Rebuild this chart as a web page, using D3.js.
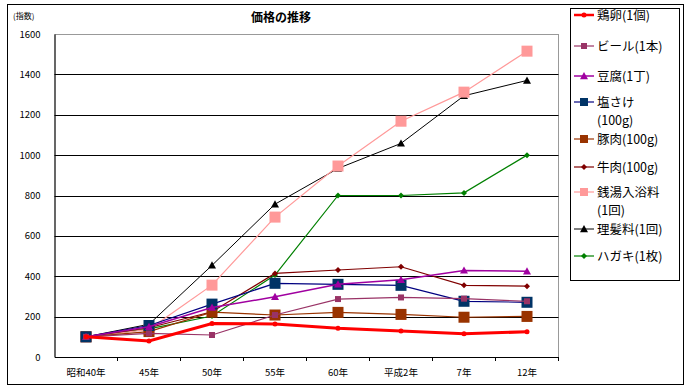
<!DOCTYPE html>
<html><head><meta charset="utf-8">
<script src="https://cdn.jsdelivr.net/npm/d3@7"></script>
<style>body{margin:0;background:#fff}svg{display:block}</style>
</head><body><svg id="c" width="690" height="392"></svg>
<script>
const categories = ["昭和40年","45年","50年","55年","60年","平成2年","7年","12年"];
const yTicks = [0,200,400,600,800,1000,1200,1400,1600];
const seriesNames = ["鶏卵(1個)","ビール(1本)","豆腐(1丁)","塩さけ(100g)","豚肉(100g)","牛肉(100g)","銭湯入浴料(1回)","理髪料(1回)","ハガキ(1枚)"];
const eggs   = [100, 79, 166, 164, 142, 129, 115, 125];
const beer   = [100, 117, 109, 208, 287, 295, 289, 276];
const tofu   = [100, 150, 245, 298, 360, 383, 429, 425];
const salmon = [100, 156, 262, 365, 360, 355, 276, 271];
const pork   = [100, 126, 222, 208, 221, 211, 197, 201];
const beef   = [100, 145, 224, 414, 431, 447, 355, 351];
const bath   = [100, 137, 356, 693, 946, 1168, 1312, 1515];
const barber = [100, 162, 454, 757, 934, 1058, 1294, 1370];
const card   = [100, 139, 203, 406, 800, 800, 813, 1000];
const seriesValues = [eggs, beer, tofu, salmon, pork, beef, bath, barber, card];

const styles = [
  {c:"#FF0000", w:3, m:"dot", s:2.5},
  {c:"#993366", w:1.2, m:"sq", s:3},
  {c:"#A000A0", w:1.5, m:"tri", s:4},
  {c:"#000080", w:1.2, m:"sq", s:5.5, mc:"#003366"},
  {c:"#993300", w:1.2, m:"sq", s:5.5},
  {c:"#800000", w:1.2, m:"dia", s:3},
  {c:"#FF9999", w:1.2, m:"sq", s:5.5},
  {c:"#000000", w:1, m:"tri", s:4},
  {c:"#008000", w:1.2, m:"dia", s:3}
];
const legendLabels = [["鶏卵(1個)"],["ビール(1本)"],["豆腐(1丁)"],["塩さけ","(100g)"],["豚肉(100g)"],["牛肉(100g)"],["銭湯入浴料","(1回)"],["理髪料(1回)"],["ハガキ(1枚)"]];

const svg = d3.select("#c");
const font = "'Noto Sans CJK JP', sans-serif";
svg.append("rect").attr("x",7.5).attr("y",4.5).attr("width",676).attr("height",380).attr("fill","none").attr("stroke","#000").attr("stroke-width",1);

const L=54.5, R=558.5, T=34, B=357;
const x = d3.scaleBand().domain(categories).range([L,R]);
const y = d3.scaleLinear().domain([0,1600]).range([B,T]);

svg.append("line").attr("x1",L).attr("x2",R).attr("y1",T+0.5).attr("y2",T+0.5).attr("stroke","#999");
svg.append("line").attr("x1",R).attr("x2",R).attr("y1",T).attr("y2",B).attr("stroke","#999");
svg.append("g").selectAll("line").data(yTicks.filter(d=>d>0&&d<1600)).join("line")
  .attr("x1",L).attr("x2",R).attr("y1",d=>Math.round(y(d))+0.5).attr("y2",d=>Math.round(y(d))+0.5)
  .attr("stroke","#000").attr("stroke-width",1.2);

const yAxis = d3.axisLeft(y).tickValues(yTicks).tickFormat(d3.format("d")).tickSize(0).tickPadding(14);
const gy = svg.append("g").attr("transform",`translate(${L},0)`).call(yAxis);
gy.select(".domain").attr("stroke","#000").attr("stroke-width",1.2);
gy.selectAll("text").attr("font-family",font).attr("font-size",9.5).attr("fill","#000");

const xAxis = d3.axisBottom(x).tickSize(0).tickPadding(12);
const gx = svg.append("g").attr("transform",`translate(0,${B})`).call(xAxis);
gx.select(".domain").attr("stroke","#000").attr("stroke-width",1.2);
gx.selectAll("text").attr("font-family",font).attr("font-size",9.5).attr("fill","#000");
svg.append("g").selectAll("line").data(categories.slice(1).concat(["__end"])).join("line")
  .attr("x1",d=>d==="__end"?R:x(d)).attr("x2",d=>d==="__end"?R:x(d))
  .attr("y1",B).attr("y2",B+4).attr("stroke","#000");

svg.append("text").attr("x",281).attr("y",22).attr("text-anchor","middle").attr("font-family",font)
  .attr("font-size",12).attr("font-weight","bold").text("価格の推移");
svg.append("text").attr("x",13).attr("y",19).attr("font-family",font).attr("font-size",8).text("(指数)");

function marker(g, st, cx, cy){
  const col = st.mc || st.c;
  const s = st.s;
  if(st.m==="sq") g.append("rect").attr("x",cx-s).attr("y",cy-s).attr("width",2*s).attr("height",2*s).attr("fill",col);
  else if(st.m==="tri") g.append("path").attr("d",`M${cx},${cy-s}L${cx+s},${cy+s*0.8}L${cx-s},${cy+s*0.8}Z`).attr("fill",col);
  else if(st.m==="dia") g.append("path").attr("d",`M${cx},${cy-s}L${cx+s},${cy}L${cx},${cy+s}L${cx-s},${cy}Z`).attr("fill",col);
  else g.append("circle").attr("cx",cx).attr("cy",cy).attr("r",s).attr("fill",col);
}

const line = d3.line().x((d,i)=>x(categories[i])+x.bandwidth()/2).y(d=>y(d));
const order = [8,7,6,5,4,3,2,1,0];
order.forEach(k=>{
  const st = styles[k];
  const g = svg.append("g");
  g.append("path").attr("d",line(seriesValues[k])).attr("fill","none").attr("stroke",st.c).attr("stroke-width",st.w);
  seriesValues[k].forEach((v,i)=>marker(g, st, x(categories[i])+x.bandwidth()/2, y(v)));
});

svg.append("rect").attr("x",570.5).attr("y",8.5).attr("width",109).attr("height",272).attr("fill","#fff").attr("stroke","#000");
const legY = [15,46,76,102,139,167,192,229,256];
legendLabels.forEach((lab,k)=>{
  const st = styles[k];
  const g = svg.append("g");
  const yy = legY[k];
  g.append("line").attr("x1",574).attr("x2",594).attr("y1",yy).attr("y2",yy).attr("stroke",st.c).attr("stroke-width",Math.min(st.w,2.5));
  marker(g, Object.assign({},st,{s:Math.min(st.s,4)}), 584, yy);
  const t = g.append("text").attr("x",597).attr("y",yy+5).attr("font-family",font).attr("font-size",12.5).attr("fill","#000");
  lab.forEach((s,j)=>{
    t.append("tspan").attr("x",597).attr("dy",j===0?0:18).text(s);
  });
});
</script></body></html>
